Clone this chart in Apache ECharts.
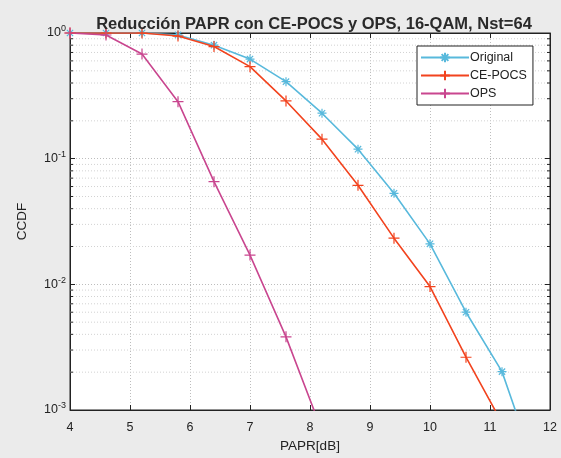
<!DOCTYPE html>
<html>
<head>
<meta charset="utf-8">
<script src="https://cdn.jsdelivr.net/npm/echarts@6/dist/echarts.min.js"></script>
<style>
html,body{margin:0;padding:0;background:#ebebeb;}
#c{width:561px;height:458px;}
</style>
</head>
<body>
<div id="c"></div>
<script>
// ---- data ----
const papr     = [4, 4.6, 5.2, 5.8, 6.4, 7.0, 7.6, 8.2, 8.8, 9.4, 10.0, 10.6, 11.2, 11.8];
const original = [1, 1, 1, 0.965, 0.80, 0.62, 0.41, 0.23, 0.119, 0.053, 0.021, 0.006, 0.00202, 0.0003];
const cepocs   = [1, 1, 1, 0.946, 0.78, 0.54, 0.288, 0.143, 0.0614, 0.0233, 0.0096, 0.00263, 0.00079];
const ops      = [1, 0.964, 0.68, 0.284, 0.0656, 0.0171, 0.00382, 0.00068];
const xTicks   = [4, 5, 6, 7, 8, 9, 10, 11, 12];
const seriesNames = ['Original', 'CE-POCS', 'OPS'];
const minorVals = [];
[0.001, 0.01, 0.1].forEach(d => { for (let k = 2; k <= 9; k++) minorVals.push(+(d * k).toPrecision(3)); });

const FONT = '"Liberation Sans", Arial, sans-serif';
const C_ORIG = '#58b9dc', C_CE = '#f2431e', C_OPS = '#c9468f';
const plusPath = 'path://M5,0 L5,10 M0,5 L10,5';
const starPath = 'path://M5,0 L5,10 M0,5 L10,5 M1.5,1.5 L8.5,8.5 M8.5,1.5 L1.5,8.5';

function pairs(ys) { return ys.map((y, i) => [papr[i], y]); }

const chart = echarts.init(document.getElementById('c'), null, {renderer: 'canvas'});
const option = {
  backgroundColor: '#ebebeb',
  animation: false,
  title: {
    text: 'Reducción PAPR con CE-POCS y OPS, 16-QAM, Nst=64',
    left: 309, textAlign: 'center', top: 11,
    textStyle: {fontFamily: FONT, fontSize: 16.5, fontWeight: 'bold', color: '#2a2a2a'}
  },
  grid: {left: 70, right: 11, top: 33, bottom: 48, show: true, backgroundColor: '#ffffff', borderColor: '#222', borderWidth: 1},
  legend: {
    orient: 'vertical', left: 417, top: 46,
    backgroundColor: '#ffffff', borderColor: '#222', borderWidth: 1,
    padding: [5, 6, 5, 3], itemGap: 5, itemWidth: 48, itemHeight: 12,
    data: seriesNames,
    textStyle: {fontFamily: FONT, fontSize: 12.5, color: '#222', padding: [0, 0, 0, -4]}
  },
  xAxis: [{
    type: 'value', min: 4, max: 12, interval: 1,
    name: 'PAPR[dB]', nameLocation: 'middle', nameGap: 27,
    nameTextStyle: {fontFamily: FONT, fontSize: 13.5, color: '#222'},
    axisLine: {lineStyle: {color: '#222'}},
    axisTick: {inside: true, length: 5, lineStyle: {color: '#222'}},
    axisLabel: {fontFamily: FONT, fontSize: 12.5, color: '#222', margin: 11, formatter: v => xTicks.includes(v) ? String(v) : ''},
    splitLine: {show: true, lineStyle: {color: '#bdbdbd', type: [1, 2], width: 1}}
  }, {
    type: 'value', min: 4, max: 12, interval: 1, position: 'top',
    axisLine: {lineStyle: {color: '#222'}},
    axisTick: {inside: true, length: 5, lineStyle: {color: '#222'}},
    axisLabel: {show: false}, splitLine: {show: false}
  }],
  yAxis: [{
    type: 'log', logBase: 10, min: 0.001, max: 1,
    name: 'CCDF', nameLocation: 'middle', nameGap: 41,
    nameTextStyle: {fontFamily: FONT, fontSize: 13.5, color: '#222'},
    axisLine: {show: true, lineStyle: {color: '#222'}},
    axisTick: {inside: true, length: 5, lineStyle: {color: '#222'}},
    axisLabel: {
      margin: 4,
      formatter: v => '{b|10}{s|' + Math.round(Math.log10(v)) + '}',
      rich: {
        b: {fontFamily: FONT, fontSize: 12.5, color: '#222'},
        s: {fontFamily: FONT, fontSize: 9, color: '#222', verticalAlign: 'bottom', padding: [0, 0, 8, 0]}
      }
    },
    splitLine: {show: true, lineStyle: {color: '#bdbdbd', type: [1, 2], width: 1}}
  }, {
    type: 'log', logBase: 10, min: 0.001, max: 1, position: 'right',
    axisLine: {show: true, lineStyle: {color: '#222'}},
    axisTick: {inside: true, length: 5, lineStyle: {color: '#222'}},
    axisLabel: {show: false}, splitLine: {show: false}
  }],
  series: [
    {
      type: 'custom', name: 'minor', silent: true, z: 1,
      data: minorVals.map(v => [4, v]),
      renderItem: function (params, api) {
        const v = api.value(1);
        const p0 = api.coord([4, v]);
        const p1 = api.coord([12, v]);
        return {
          type: 'group',
          children: [
            {type: 'line', shape: {x1: p0[0], y1: p0[1], x2: p1[0], y2: p1[1]}, style: {stroke: '#d2d2d2', lineWidth: 1, lineDash: [1, 2]}},
            {type: 'line', shape: {x1: p0[0], y1: p0[1], x2: p0[0] + 3, y2: p0[1]}, style: {stroke: '#222', lineWidth: 1}},
            {type: 'line', shape: {x1: p1[0], y1: p1[1], x2: p1[0] - 3, y2: p1[1]}, style: {stroke: '#222', lineWidth: 1}}
          ]
        };
      }
    },
    {
      name: 'Original', type: 'line', data: pairs(original), clip: true, z: 3,
      symbol: starPath, symbolSize: 9,
      lineStyle: {color: C_ORIG, width: 1.6},
      itemStyle: {color: C_ORIG, borderColor: C_ORIG, borderWidth: 1.2}
    },
    {
      name: 'CE-POCS', type: 'line', data: pairs(cepocs), clip: true, z: 4,
      symbol: plusPath, symbolSize: 11,
      lineStyle: {color: C_CE, width: 1.6},
      itemStyle: {color: C_CE, borderColor: C_CE, borderWidth: 1.2}
    },
    {
      name: 'OPS', type: 'line', data: pairs(ops), clip: true, z: 4,
      symbol: plusPath, symbolSize: 11,
      lineStyle: {color: C_OPS, width: 1.6},
      itemStyle: {color: C_OPS, borderColor: C_OPS, borderWidth: 1.2}
    }
  ]
};
chart.setOption(option);
</script>
</body>
</html>
